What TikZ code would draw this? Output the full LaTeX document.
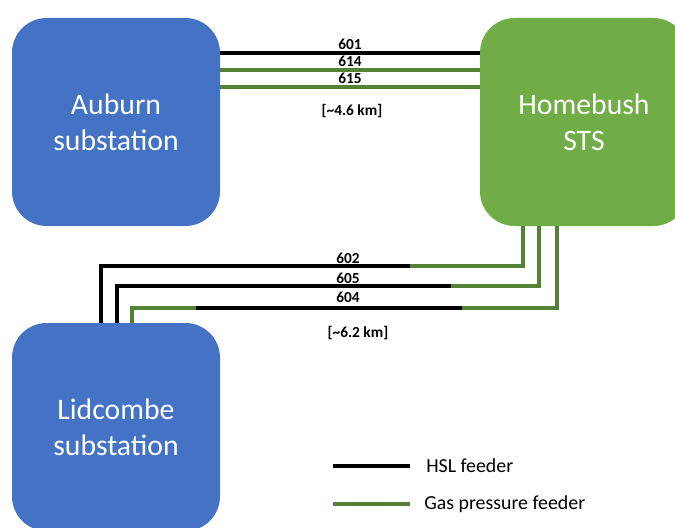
\documentclass[tikz,border=0pt]{standalone}
\usepackage{fontspec}
\setmainfont{Carlito}
\usepackage{tikz}
\definecolor{boxblue}{HTML}{4472C4}
\definecolor{boxgreen}{HTML}{70AD47}
\definecolor{feedgreen}{HTML}{548235}
\tikzset{
	station/.style={rectangle, rounded corners=26pt, minimum width=156pt, minimum height=156pt, inner sep=0pt, text=white, align=center, font=\fontsize{22.3}{27}\selectfont},
	hsl/.style={line width=2.4pt, black},
	gas/.style={line width=2.4pt, feedgreen},
	fdlabel/.style={font=\bfseries\fontsize{11.5}{13}\selectfont, inner sep=0pt},
	legtext/.style={font=\fontsize{14.9}{17}\selectfont, anchor=west, inner sep=0pt},
}

\begin{document}
\begin{tikzpicture}[x=0.75pt, y=-0.75pt]
			\clip (0,0) rectangle (675,528);
			\useasboundingbox (0,0) rectangle (675,528);
			\node[station, fill=boxblue] (auburn) at (116,122) {Auburn\\substation};
			\node[station, fill=boxgreen] (homebush) at (584,122) {Homebush\\STS};
			\node[station, fill=boxblue] (lidcombe) at (116,427) {Lidcombe\\substation};

			\draw[hsl] (auburn.east |- 0,53) -- (homebush.west |- 0,53);
			\draw[gas] (auburn.east |- 0,70) -- (homebush.west |- 0,70);
			\draw[gas] (auburn.east |- 0,87) -- (homebush.west |- 0,87);
			\node[fdlabel, anchor=base] (l601) at (350,50) {601};
			\node[fdlabel, anchor=base] (l614) at (350,67) {614};
			\node[fdlabel, anchor=base] (l615) at (350,84) {615};
			\node[fdlabel] (dist1) at (352,111) {[\textasciitilde4.6 km]};

			\coordinate (c602) at (410,266);
			\coordinate (c605) at (451,286);
			\coordinate (c604a) at (462,308);
			\coordinate (c604b) at (196,308);
			\draw[gas] (homebush.south -| 523,0) |- (c602);
			\draw[hsl] (c602) -| (lidcombe.north -| 101,0);
			\draw[gas] (homebush.south -| 539,0) |- (c605);
			\draw[hsl] (c605) -| (lidcombe.north -| 117,0);
			\draw[gas] (homebush.south -| 557,0) |- (c604a);
			\draw[hsl] (c604a) -- (c604b);
			\draw[gas] (c604b) -| (lidcombe.north -| 132,0);
			\node[fdlabel, anchor=base] (l602) at (348,263) {602};
			\node[fdlabel, anchor=base] (l605) at (348,283) {605};
			\node[fdlabel, anchor=base] (l604) at (348,302) {604};
			\node[fdlabel] (dist2) at (358,333) {[\textasciitilde6.2 km]};

			\coordinate (lga) at (333,466);
			\coordinate (lgb) at (410,466);
			\coordinate (lgc) at (333,504);
			\coordinate (lgd) at (410,504);
			\draw[hsl] (lga) -- (lgb);
			\draw[gas] (lgc) -- (lgd);
			\node[legtext] (lhsl) at (426,466) {HSL feeder};
			\node[legtext] (lgas) at (424,504) {Gas pressure feeder};
		\end{tikzpicture}
\end{document}
